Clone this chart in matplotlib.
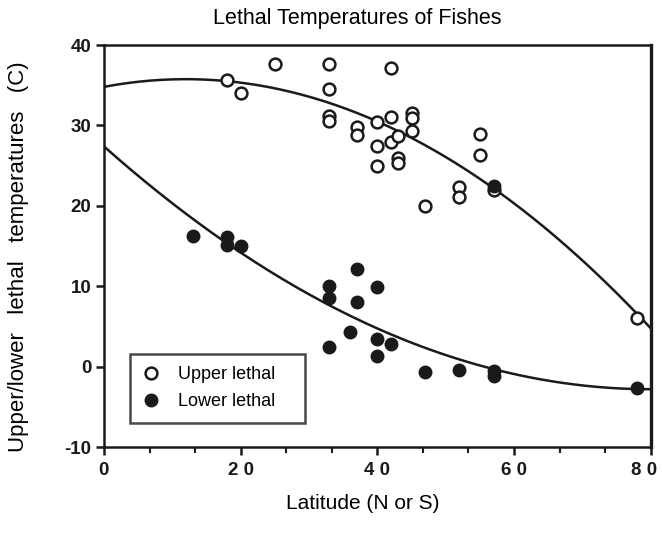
import matplotlib
matplotlib.use('Agg')
import matplotlib.pyplot as plt
import matplotlib.transforms as mtransforms
import numpy as np
from matplotlib.ticker import MultipleLocator

plt.rcParams['font.family'] = ['Liberation Sans', 'DejaVu Sans']
plt.rcParams['axes.unicode_minus'] = False

# upper lethal temperatures (open circles)
upper_lat = [18, 20, 25, 33, 33, 33, 33, 37, 37, 40, 40, 40, 42, 42, 42,
             43, 43, 43, 45, 45, 45, 47, 52, 52, 55, 55, 57, 78]
upper_temp = [35.7, 34.0, 37.6, 37.6, 34.5, 31.2, 30.5, 29.8, 28.8, 30.4, 27.5, 24.9,
              37.2, 31.0, 28.0, 28.7, 26.0, 25.3, 31.5, 30.9, 29.3, 20.0, 22.3, 21.1,
              28.9, 26.3, 22.0, 6.1]

# lower lethal temperatures (filled circles)
lower_lat = [13, 18, 18, 20, 33, 33, 33, 36, 37, 37, 40, 40, 40, 42,
             47, 52, 57, 57, 57, 78]
lower_temp = [16.3, 16.1, 15.1, 15.0, 10.1, 8.5, 2.5, 4.3, 12.1, 8.1, 9.9, 3.5, 1.3, 2.8,
              -0.6, -0.4, -0.5, -1.2, 22.5, -2.7]

# fitted curves, coefficients (c0 + c1*x + c2*x^2)
upper_fit = [34.8, 0.16, -0.00669]
lower_fit = [27.4, -0.7545, 0.004713]

fig = plt.figure(figsize=(6.62, 5.33), dpi=100)
ax = fig.add_axes([0.157, 0.161, 0.826, 0.7545])

xs = np.linspace(0, 80, 200)
ax.plot(xs, np.polynomial.polynomial.polyval(xs, upper_fit), color='#1a1a1a', lw=1.8, zorder=2)
ax.plot(xs, np.polynomial.polynomial.polyval(xs, lower_fit), color='#1a1a1a', lw=1.8, zorder=2)

ax.plot(upper_lat, upper_temp, 'o', ms=8.5, mfc='white', mec='#1a1a1a', mew=1.8,
        label='Upper lethal', zorder=3, clip_on=False)
ax.plot(lower_lat, lower_temp, 'o', ms=9, mfc='#1a1a1a', mec='#1a1a1a',
        label='Lower lethal', zorder=4, clip_on=False)

ax.set_xlim(0, 80)
ax.set_ylim(-10, 40)
ax.xaxis.set_major_locator(MultipleLocator(20))
ax.xaxis.set_minor_locator(MultipleLocator(20 / 3))
ax.yaxis.set_major_locator(MultipleLocator(10))
ax.xaxis.set_major_formatter(lambda v, pos: ' '.join(str(int(round(v)))))

for s in ax.spines.values():
    s.set_linewidth(1.8)
    s.set_color('#1a1a1a')
ax.spines['right'].set_linewidth(2.4)

ax.tick_params(which='major', direction='out', length=6, width=1.8, colors='#1a1a1a',
               labelsize=13.5, pad=3)
ax.tick_params(which='minor', direction='out', length=4, width=1.5, colors='#1a1a1a')
ax.tick_params(axis='x', pad=5)

fig.text(0.548, 0.056, 'Latitude (N or S)', ha='center', va='center', fontsize=15)
fig.text(0.028, 0.518, 'Upper/lower   lethal   temperatures   (C)', ha='center', va='center',
         rotation=90, fontsize=16)
fig.text(0.54, 0.965, 'Lethal Temperatures of Fishes', ha='center', va='center', fontsize=15.5)

leg = ax.legend(loc='lower left', bbox_to_anchor=(0.047, 0.06, 0.32, 0.19), mode='expand',
                borderaxespad=0, fontsize=13, frameon=True, fancybox=False,
                edgecolor='#1a1a1a', handletextpad=1.0, borderpad=0.7, labelspacing=0.55,
                handlelength=1.0)
leg.get_frame().set_linewidth(1.8)

# bold tick labels; the "8 0" label sits against the figure edge, so nudge it left
fig.canvas.draw()
shift = mtransforms.ScaledTranslation(-7 / 100, 0, fig.dpi_scale_trans)
for tick in ax.xaxis.get_major_ticks() + ax.yaxis.get_major_ticks():
    tick.label1.set_fontweight('bold')
for tick in ax.xaxis.get_major_ticks():
    if abs(tick.get_loc() - 80) < 1e-6:
        tick.label1.set_transform(tick.label1.get_transform() + shift)

fig.savefig('out.png', dpi=100)
